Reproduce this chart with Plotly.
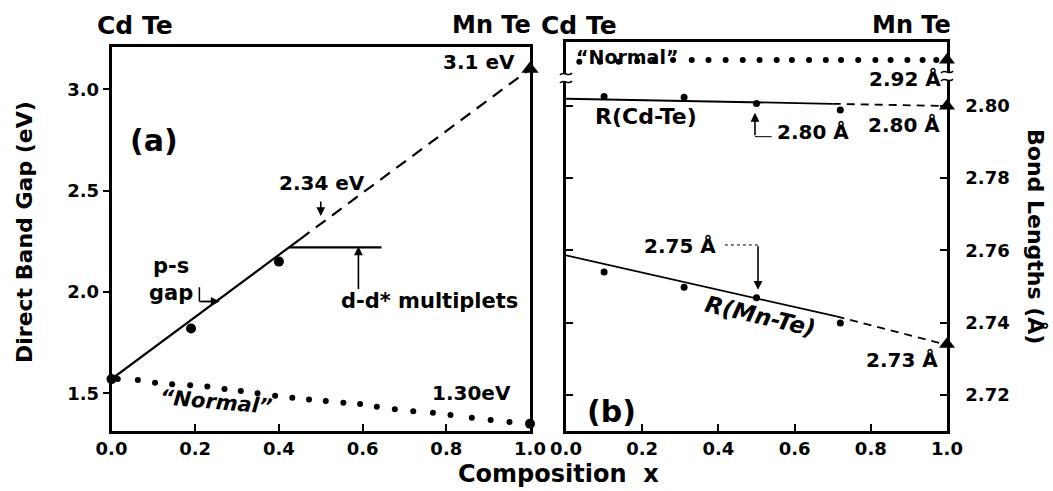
import plotly.graph_objects as go

W, H = 1053, 491
FONT = "DejaVu Sans"

# ---------------- data: panel (a) band gap ----------------
comp_ticks = [0.0, 0.2, 0.4, 0.6, 0.8, 1.0]
comp_ticktext = ["0.0", "0.2", "0.4", "0.6", "0.8", "1.0"]
gap_ticks = [1.5, 2.0, 2.5, 3.0]
gap_ticktext = ["1.5", "2.0", "2.5", "3.0"]

x_ps = [0.0, 0.19, 0.40]                 # measured p-s gap points
gap_ps = [1.57, 1.82, 2.15]
x_fit_solid = [0.0, 0.45]
gap_fit_solid = [1.57, 2.26]
x_fit_dash = [0.45, 1.0]
gap_fit_dash = [2.26, 3.10]
x_mnte = [1.0]
gap_mnte = [3.10]
x_multiplet = [0.425, 0.645]
gap_multiplet = [2.22, 2.22]

x_norm_gap = [0.015, 0.063, 0.104, 0.145, 0.188, 0.229, 0.270, 0.309, 0.349, 0.391,
              0.432, 0.472, 0.512, 0.554, 0.594, 0.634, 0.677, 0.721, 0.768, 0.810,
              0.861, 0.906, 0.951]
gap_norm = [1.570, 1.566, 1.552, 1.545, 1.540, 1.533, 1.521, 1.511, 1.500, 1.488,
            1.478, 1.470, 1.462, 1.453, 1.447, 1.434, 1.421, 1.412, 1.404, 1.393,
            1.379, 1.368, 1.359]
x_norm_end = [1.0]
gap_norm_end = [1.35]

# ---------------- data: panel (b) bond lengths ----------------
bond_ticks = [2.72, 2.74, 2.76, 2.78, 2.80]
bond_ticktext = ["2.72", "2.74", "2.76", "2.78", "2.80"]

x_bond = [0.10, 0.31, 0.50, 0.72]
r_cdte = [2.8026, 2.8024, 2.8007, 2.7989]
r_mnte = [2.7540, 2.7498, 2.7469, 2.7399]
x_cd_solid = [0.0, 0.70]
r_cd_solid = [2.8020, 2.8006]
x_cd_dash = [0.70, 1.0]
r_cd_dash = [2.8006, 2.8000]
x_mn_solid = [0.0, 0.71]
r_mn_solid = [2.7586, 2.7417]
x_mn_dash = [0.71, 1.0]
r_mn_dash = [2.7417, 2.7338]
x_end = [1.0]
r_cd_end = [2.800]
r_mn_end = [2.734]

x_norm_bond = [0.035, 0.089, 0.138, 0.187, 0.232, 0.281, 0.330, 0.374, 0.419, 0.464,
               0.508, 0.553, 0.593, 0.638, 0.682, 0.722, 0.767, 0.812, 0.852, 0.896,
               0.936, 0.972]
r_norm = [2.918, 2.918, 2.918, 2.919, 2.919, 2.920, 2.920, 2.920, 2.920, 2.920,
          2.920, 2.920, 2.920, 2.920, 2.920, 2.920, 2.920, 2.920, 2.920, 2.920,
          2.920, 2.920]
r_norm_end = [2.920]

# ---------------- figure ----------------
fig = go.Figure()
K = "black"

def sc(x, y, xa, ya, mode, **kw):
    fig.add_trace(go.Scatter(x=x, y=y, xaxis=xa, yaxis=ya, mode=mode,
                             showlegend=False, hoverinfo="skip", cliponaxis=False, **kw))

# panel (a)
sc(x_norm_gap, gap_norm, "x", "y", "markers", marker=dict(color=K, size=6))
sc(x_norm_end, gap_norm_end, "x", "y", "markers", marker=dict(color=K, size=10))
sc(x_fit_solid, gap_fit_solid, "x", "y", "lines", line=dict(color=K, width=2.2))
sc(x_fit_dash, gap_fit_dash, "x", "y", "lines", line=dict(color=K, width=2.2, dash="12px,8px"))
sc(x_multiplet, gap_multiplet, "x", "y", "lines", line=dict(color=K, width=2.2))
sc(x_ps, gap_ps, "x", "y", "markers", marker=dict(color=K, size=10))
sc(x_mnte, gap_mnte, "x", "y", "markers", marker=dict(color=K, size=15, symbol="triangle-up"))

# panel (b)
sc(x_norm_bond, r_norm, "x2", "y3", "markers", marker=dict(color=K, size=6))
sc(x_end, r_norm_end, "x2", "y3", "markers", marker=dict(color=K, size=14, symbol="triangle-up"))
sc(x_cd_solid, r_cd_solid, "x2", "y2", "lines", line=dict(color=K, width=1.8))
sc(x_cd_dash, r_cd_dash, "x2", "y2", "lines", line=dict(color=K, width=1.8, dash="8px,6px"))
sc(x_bond, r_cdte, "x2", "y2", "markers", marker=dict(color=K, size=7))
sc(x_end, r_cd_end, "x2", "y2", "markers", marker=dict(color=K, size=14, symbol="triangle-up"))
sc(x_mn_solid, r_mn_solid, "x2", "y2", "lines", line=dict(color=K, width=1.8))
sc(x_mn_dash, r_mn_dash, "x2", "y2", "lines", line=dict(color=K, width=1.8, dash="8px,6px"))
sc(x_bond, r_mnte, "x2", "y2", "markers", marker=dict(color=K, size=7))
sc(x_end, r_mn_end, "x2", "y2", "markers", marker=dict(color=K, size=14, symbol="triangle-up"))

# ---------------- axes ----------------
def px(v): return v / W
def py(v): return 1 - v / H

tf = dict(family=FONT, size=18, color=K, weight="bold")
common = dict(showgrid=False, zeroline=False, showline=True, linecolor=K, linewidth=2.5,
              tickcolor=K, tickwidth=2, tickfont=tf, automargin=False)

fig.update_layout(
    xaxis=dict(domain=[px(111.5), px(530)], range=[0, 1], anchor="y", mirror=True,
               ticks="inside", ticklen=7, tickvals=comp_ticks, ticktext=comp_ticktext, **common),
    yaxis=dict(domain=[py(431), py(47)], range=[1.314, 3.209], anchor="x", mirror=True,
               ticks="outside", ticklen=6, tickvals=gap_ticks, ticktext=gap_ticktext, **common),
    yaxis4=dict(overlaying="y", side="right", anchor="x", range=[1.314, 3.209],
                ticks="inside", ticklen=6, tickvals=gap_ticks, showticklabels=False,
                showgrid=False, zeroline=False, showline=False, tickcolor=K, tickwidth=2,
                automargin=False),
    xaxis2=dict(domain=[px(566), px(947)], range=[0, 1], anchor="y2", mirror=True,
                ticks="inside", ticklen=7, tickvals=comp_ticks, ticktext=comp_ticktext, **common),
    yaxis2=dict(domain=[py(431), py(42)], range=[2.70997, 2.81772], anchor="x2", side="right",
                mirror="ticks", ticks="inside", ticklen=7, tickvals=bond_ticks,
                ticktext=bond_ticktext, ticklabelstandoff=12, **common),
    yaxis3=dict(domain=[py(78), py(42)], range=[2.90, 2.94], anchor="x2", visible=False,
                automargin=False),
    width=W, height=H, margin=dict(l=0, r=0, t=0, b=0, autoexpand=False),
    paper_bgcolor="white", plot_bgcolor="white",
    font=dict(family=FONT, color=K),
)

# ---------------- annotations ----------------
anns = []

def txt(text, x, y, xref, yref, size, xanchor="center", angle=0, italic=False):
    anns.append(dict(text=text, x=x, y=y, xref=xref, yref=yref, showarrow=False,
                     xanchor=xanchor, yanchor="middle", textangle=angle,
                     font=dict(family=FONT, size=size, color=K, weight="bold",
                               style="italic" if italic else "normal")))

def arrow(x, y, xref, yref, ax, ay, head=2):
    anns.append(dict(text="", x=x, y=y, xref=xref, yref=yref, showarrow=True,
                     ax=ax, ay=ay, arrowhead=head, arrowsize=1.1, arrowwidth=1.6,
                     arrowcolor=K))

# titles
txt("Cd Te", px(134.5), py(25.5), "paper", "paper", 25)
txt("Mn Te", px(491), py(25.5), "paper", "paper", 24)
txt("Cd Te", px(578.5), py(25.5), "paper", "paper", 25)
txt("Mn Te", px(911), py(25.5), "paper", "paper", 24)
txt("Direct Band Gap (eV)", px(25), py(232), "paper", "paper", 22, angle=-90)
txt("Bond Lengths (Å)", px(1036), py(236), "paper", "paper", 22, angle=90)
txt("Composition  x", px(558), py(474), "paper", "paper", 24)

# panel (a)
txt("(a)", 0.102, 2.75, "x", "y", 30)
txt("3.1 eV", 0.969, 3.136, "x", "y", 20, xanchor="right")
txt("2.34 eV", 0.503, 2.54, "x", "y", 20)
arrow(0.5, 2.375, "x", "y", 0, -16)
txt("p-s<br>gap", 0.142, 2.06, "x", "y", 21)
arrow(0.2585, 1.953, "x", "y", -20, 0)
txt("d-d* multiplets", 0.76, 1.956, "x", "y", 21)
arrow(0.590, 2.225, "x", "y", 0, 44)
txt("“Normal”", 0.25, 1.457, "x", "y", 21, angle=5, italic=True)
txt("1.30eV", 0.960, 1.50, "x", "y", 20, xanchor="right")

# panel (b)
txt("“Normal”", 0.16, 2.9233, "x2", "y3", 19)
txt("2.92 Å", 0.9895, 2.8074, "x2", "y2", 20, xanchor="right")
txt("R(Cd-Te)", 0.21, 2.7972, "x2", "y2", 22)
txt("2.80 Å", 0.5486, 2.7929, "x2", "y2", 20, xanchor="left")
arrow(0.496, 2.7981, "x2", "y2", 0, 24)
txt("2.80 Å", 0.986, 2.7948, "x2", "y2", 20, xanchor="right")
txt("2.75 Å", 0.2987, 2.7613, "x2", "y2", 20)
arrow(0.504, 2.7491, "x2", "y2", 0, -45)
txt("R(Mn-Te)", 0.509, 2.7417, "x2", "y2", 23, angle=13, italic=True)
txt("2.73 Å", 0.9816, 2.7295, "x2", "y2", 20, xanchor="right")
txt("(b)", 0.1207, 2.7154, "x2", "y2", 30)

fig.update_layout(annotations=anns)

# ---------------- leader lines & axis breaks ----------------
shapes = [
    dict(type="line", xref="x", yref="y", x0=0.21, x1=0.21, y0=2.023, y1=1.953,
         line=dict(color=K, width=1.5)),
    dict(type="line", xref="x", yref="y", x0=0.21, x1=0.245, y0=1.953, y1=1.953,
         line=dict(color=K, width=1.5)),
    dict(type="line", xref="x2", yref="y2", x0=0.496, x1=0.540, y0=2.7915, y1=2.7915,
         line=dict(color=K, width=1)),
    dict(type="line", xref="x2", yref="y2", x0=0.417, x1=0.504, y0=2.7615, y1=2.7615,
         line=dict(color=K, width=1, dash="dot")),
]

def brk(cx, cy):
    out = [dict(type="rect", xref="paper", yref="paper", layer="above",
                x0=px(cx - 4), x1=px(cx + 4), y0=py(cy + 4), y1=py(cy - 4),
                line=dict(width=0), fillcolor="white")]
    for dy in (-4, 4):
        y0 = cy + dy
        path = (f"M {px(cx-6)},{py(y0+1)} C {px(cx-2)},{py(y0-4)} "
                f"{px(cx+2)},{py(y0+4)} {px(cx+6)},{py(y0-1)}")
        out.append(dict(type="path", xref="paper", yref="paper", layer="above",
                        path=path, line=dict(color=K, width=1.6)))
    return out

shapes += brk(566, 78)
shapes += brk(947, 76)
fig.update_layout(shapes=shapes)

fig.write_html("out.html")
